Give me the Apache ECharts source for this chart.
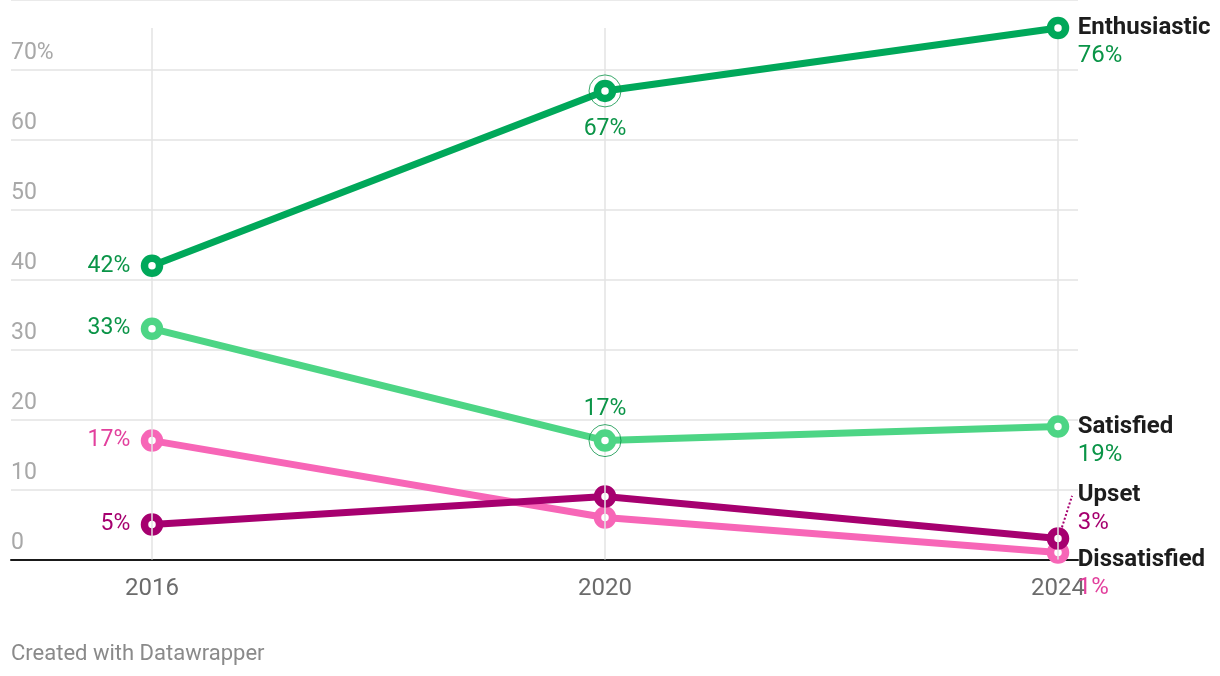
<!DOCTYPE html>
<html>
<head>
<meta charset="utf-8">
<script src="https://cdn.jsdelivr.net/npm/echarts@6/dist/echarts.min.js"></script>
<style>
html,body{margin:0;padding:0;background:#fff;}
#chart{width:1220px;height:676px;}
</style>
</head>
<body>
<div id="chart"></div>
<script>
// ---- data ----
var years = [2016, 2020, 2024];
var seriesNames = ['Enthusiastic', 'Satisfied', 'Dissatisfied', 'Upset'];
var enthusiastic = [42, 67, 76];
var satisfied = [33, 17, 19];
var dissatisfied = [17, 6, 1];
var upset = [5, 9, 3];
var yTicks = [0, 10, 20, 30, 40, 50, 60, 70];
var footer = 'Created with Datawrapper';

// ---- styles ----
var FONT = 'Roboto';
var colors = {
  Enthusiastic: {line: '#00a85a', text: '#0a9447'},
  Satisfied: {line: '#4dd585', text: '#0a9447'},
  Dissatisfied: {line: '#f766b7', text: '#e2409d'},
  Upset: {line: '#a6006f', text: '#a6006f'}
};
var valueSets = {Enthusiastic: enthusiastic, Satisfied: satisfied, Dissatisfied: dissatisfied, Upset: upset};

// per point label placement (index: 0=2016,1=2020,2=2024)
var labelPlacement = {
  Enthusiastic: [{position: 'left', distance: 10.5}, {position: 'bottom', distance: 15}, {end: true, offset: [0, 14]}],
  Satisfied: [{position: 'left', distance: 10.5}, {position: 'top', distance: 8.5}, {end: true, offset: [0, 14]}],
  Dissatisfied: [{position: 'left', distance: 10.5}, null, {end: true, offset: [0, 21.5]}],
  Upset: [{position: 'left', distance: 10.5}, null, {end: true, offset: [0, -30]}]
};

function makeLabel(name, i, v) {
  var p = labelPlacement[name][i];
  var c = colors[name];
  if (!p) return {show: false};
  if (p.end) {
    return {
      show: true, position: 'right', distance: 8.5, offset: p.offset,
      formatter: '{n|' + name + '}\n{v|' + v + '%}',
      rich: {
        n: {fontFamily: FONT, fontSize: 24, fontWeight: 'bold', color: '#1d1d1d', lineHeight: 28},
        v: {fontFamily: FONT, fontSize: 24, color: c.text, lineHeight: 28}
      }
    };
  }
  return {
    show: true, position: p.position, distance: p.distance,
    formatter: v + '%', fontFamily: FONT, fontSize: 23, color: c.text, lineHeight: 24
  };
}

function makeSeries(name, z) {
  var vals = valueSets[name];
  var c = colors[name];
  return {
    name: name, type: 'line', z: z,
    data: years.map(function (y, i) {
      return {value: [y, vals[i]], label: makeLabel(name, i, vals[i])};
    }),
    lineStyle: {color: c.line, width: 7},
    symbol: 'circle', symbolSize: 15,
    itemStyle: {color: '#fff', borderColor: c.line, borderWidth: 7.5},
    emphasis: {disabled: true},
    silent: true
  };
}

var upsetSeries = makeSeries('Upset', 4);
upsetSeries.markLine = {
  silent: true, symbol: 'none', label: {show: false},
  lineStyle: {color: colors.Upset.line, type: 'dotted', width: 2},
  data: [[{coord: [2024.035, upset[2] + 1.6]}, {coord: [2024.124, upset[2] + 6.1]}]]
};

var xMinPx = 11, xMaxPx = 1078, x2016Px = 152, x2024Px = 1058;
var pxPerYear = (x2024Px - x2016Px) / (years[2] - years[0]);

var option = {
  animation: false,
  textStyle: {fontFamily: FONT},
  title: {
    text: footer, left: 11, top: 643, padding: 0,
    textStyle: {fontFamily: FONT, fontSize: 22, fontWeight: 'normal', color: '#8a8a8a'}
  },
  grid: {left: xMinPx, right: 1220 - xMaxPx, top: -2.5, bottom: 116.5, containLabel: false},
  xAxis: {
    type: 'value',
    min: years[0] - (x2016Px - xMinPx) / pxPerYear,
    max: years[2] + (xMaxPx - x2024Px) / pxPerYear,
    axisLine: {show: true, onZero: false, lineStyle: {color: '#1a1a1a', width: 2}},
    axisTick: {show: false},
    splitLine: {show: false},
    axisLabel: {
      customValues: years, formatter: function (v) { return String(v); },
      fontFamily: FONT, fontSize: 24, color: '#6b6b6b', margin: 17
    }
  },
  yAxis: {
    type: 'value', min: 0, max: 80, interval: 10,
    axisLine: {show: false}, axisTick: {show: false},
    splitLine: {show: true, lineStyle: {color: '#e3e3e3', width: 1.5}},
    axisLabel: {
      inside: true, margin: 0,
      customValues: yTicks,
      formatter: function (v) { return v === 70 ? '70%' : String(v); },
      fontFamily: FONT, fontSize: 23, color: '#a8a8a8',
      verticalAlign: 'bottom', align: 'left', lineHeight: 23, padding: [0, 0, 5, 0]
    }
  },
  series: [
    {
      name: 'vgrid', type: 'line', data: [], z: 1, silent: true,
      markLine: {
        silent: true, symbol: 'none', label: {show: false},
        lineStyle: {color: '#e3e3e3', width: 1.5, type: 'solid'},
        data: years.map(function (y) { return [{coord: [y, 0]}, {coord: [y, enthusiastic[2]]}]; })
      }
    },
    makeSeries('Dissatisfied', 3),
    upsetSeries,
    makeSeries('Satisfied', 5),
    makeSeries('Enthusiastic', 6),
    {
      name: 'rings', type: 'scatter', z: 7, silent: true,
      data: [[years[1], enthusiastic[1]], [years[1], satisfied[1]]],
      symbol: 'circle', symbolSize: 32,
      itemStyle: {color: 'rgba(0,0,0,0)', borderColor: '#0a9447', borderWidth: 1}
    }
  ]
};

var chart = echarts.init(document.getElementById('chart'), null, {renderer: 'canvas'});
chart.setOption(option);
</script>
</body>
</html>
